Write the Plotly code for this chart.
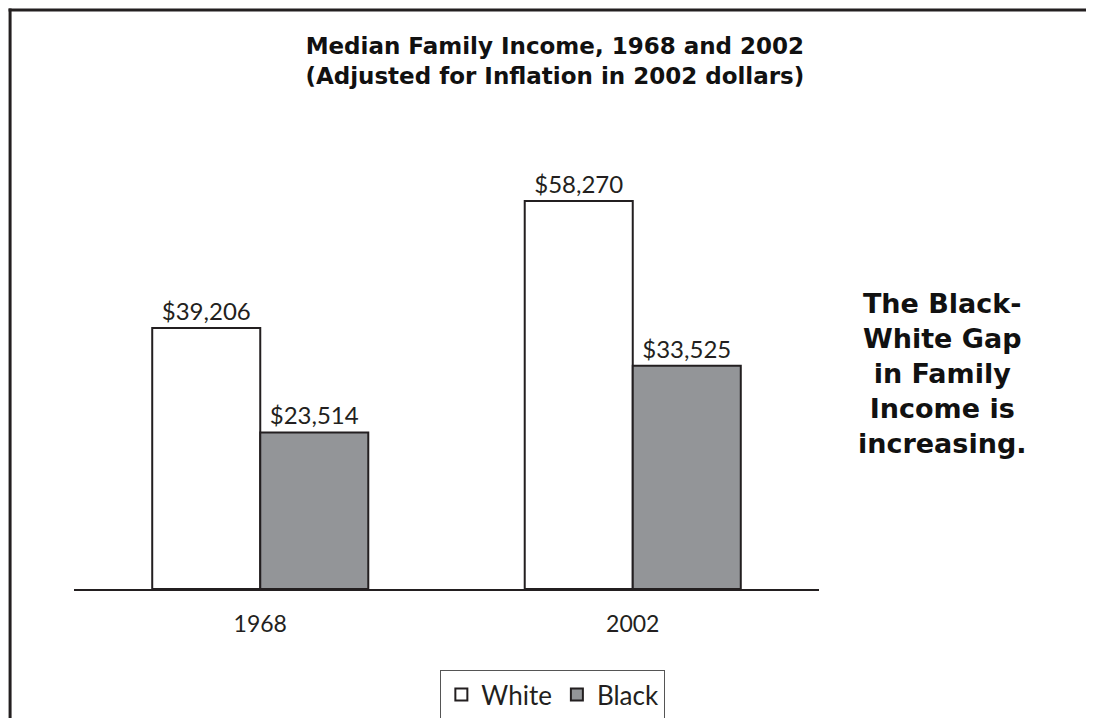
import plotly.graph_objects as go

years = ["1968", "2002"]
white = [39206, 58270]
black = [23514, 33525]
white_labels = ["$39,206", "$58,270"]
black_labels = ["$23,514", "$33,525"]

FONT = "Lato, 'Open Sans', sans-serif"
BOLD = "'DejaVu Sans', sans-serif"
OUT = "#231f20"
TXT = "#231f20"

# plot area geometry in figure pixels (page is offset by 8px body margin)
L, R, T, B = 65.5, 811.5, 115, 581
W, H = R - L, B - T

def px(x):
    return (x - L) / W

def py(y):
    return (B - y) / H

fig = go.Figure()
fig.add_trace(go.Bar(
    x=years, y=white, name="White", text=white_labels, textposition="outside",
    marker=dict(color="white", line=dict(color=OUT, width=2)),
    textfont=dict(size=24, color=TXT, family=FONT), cliponaxis=False,
))
fig.add_trace(go.Bar(
    x=years, y=black, name="Black", text=black_labels, textposition="outside",
    marker=dict(color="#939598", line=dict(color=OUT, width=2)),
    textfont=dict(size=24, color=TXT, family=FONT), cliponaxis=False,
))

fig.update_layout(
    width=1094, height=718,
    margin=dict(l=L, r=1094 - R, t=T, b=718 - B, autoexpand=False),
    paper_bgcolor="white", plot_bgcolor="white",
    barmode="group", bargap=0.42, bargroupgap=0,
    font=dict(family=FONT, color=TXT),
    title=dict(
        text="<b>Median Family Income, 1968 and 2002<br>(Adjusted for Inflation in 2002 dollars)</b>",
        x=px(547), xanchor="center", xref="paper", y=1 - 46 / 718, yanchor="top",
        font=dict(size=23, family=BOLD, color="#111"),
    ),
    xaxis=dict(showline=True, linecolor=OUT, linewidth=1.5, ticks="",
               tickfont=dict(size=23, family=FONT, color=TXT), ticklabelstandoff=14,
               range=[-0.5, 1.5], fixedrange=True),
    yaxis=dict(visible=False, range=[0, 70000], showgrid=False),
    showlegend=True,
    legend=dict(orientation="h", x=px(545), xanchor="center", y=py(662), yanchor="top",
                bordercolor="#555", borderwidth=1, bgcolor="white",
                font=dict(size=26, family=FONT, color=TXT),
                itemwidth=30, tracegroupgap=0, itemsizing="constant"),
    annotations=[dict(
        text="<b>The Black-<br>White Gap<br>in Family<br>Income is<br>increasing.</b>",
        xref="paper", yref="paper", x=px(935), y=py(365), xanchor="center", yanchor="middle",
        showarrow=False, align="center",
        font=dict(size=27, family=BOLD, color="#111"),
    )],
    shapes=[
        dict(type="line", xref="paper", yref="paper", x0=px(1.5), x1=px(1.5), y0=py(0.5), y1=py(730),
             line=dict(color="#231f20", width=3)),
        dict(type="line", xref="paper", yref="paper", x0=px(0), x1=px(1110), y0=py(2), y1=py(2),
             line=dict(color="#231f20", width=3)),
    ],
)

fig.write_html("out.html")
